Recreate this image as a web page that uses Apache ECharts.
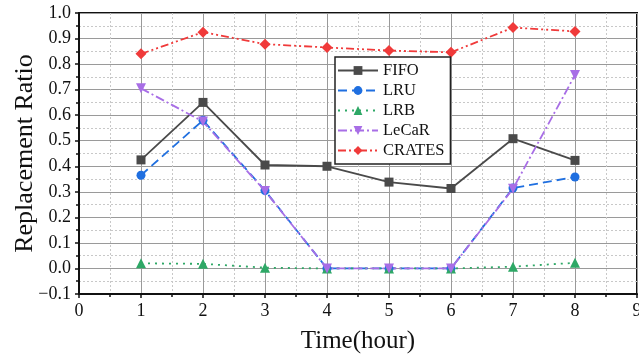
<!DOCTYPE html>
<html><head><meta charset="utf-8">
<script src="https://cdn.jsdelivr.net/npm/echarts@6/dist/echarts.min.js"></script>
<style>html,body{margin:0;padding:0;background:#fff}#c{width:639px;height:358px}</style>
</head><body><div id="c"></div>
<script>
var hours = [1, 2, 3, 4, 5, 6, 7, 8];
var fifo   = [0.425, 0.650, 0.405, 0.400, 0.338, 0.313, 0.508, 0.423];
var lru    = [0.365, 0.580, 0.305, 0.000, 0.000, 0.000, 0.315, 0.358];
var lrb    = [0.020, 0.018, 0.003, 0.000, 0.000, 0.000, 0.007, 0.022];
var lecar  = [0.705, 0.575, 0.303, 0.000, 0.000, 0.000, 0.312, 0.757];
var crates = [0.840, 0.925, 0.878, 0.865, 0.853, 0.846, 0.943, 0.928];
var seriesNames = ['FIFO', 'LRU', 'LRB', 'LeCaR', 'CRATES'];

function pairs(v){ return hours.map(function(h,i){ return [h, v[i]]; }); }
var FONT = '"Liberation Serif", "DejaVu Serif", serif';
var chart = echarts.init(document.getElementById('c'), null, {renderer:'canvas'});
var base = {type:'line', symbolSize:9, z:3};
chart.setOption({
  animation:false,
  backgroundColor:'#fff',
  textStyle:{fontFamily:FONT},
  grid:{left:79, right:2, top:13, bottom:64, outerBoundsMode:'none', containLabel:false,
        show:true, borderColor:'#111', borderWidth:2, backgroundColor:'transparent'},
  legend:{
    orient:'vertical', left:335, top:57, padding:[5,6,5,2], itemGap:3,
    itemWidth:40, itemHeight:11, backgroundColor:'#fff', borderColor:'#222', borderWidth:1.5,
    textStyle:{fontFamily:FONT, fontSize:16.5, color:'#111'},
    data:seriesNames
  },
  xAxis:{
    type:'value', min:0, max:9, interval:1,
    name:'Time(hour)', nameLocation:'middle', nameGap:35,
    nameTextStyle:{fontFamily:FONT, fontSize:25, color:'#111'},
    axisLine:{onZero:false, lineStyle:{color:'#111', width:2}},
    axisTick:{show:true, length:4, lineStyle:{color:'#111', width:1.5}},
    minorTick:{show:true, splitNumber:2, length:3, lineStyle:{color:'#111', width:1.5}},
    axisLabel:{fontFamily:FONT, fontSize:18, color:'#111', margin:8},
    splitLine:{show:true, lineStyle:{color:'#9a9a9a', width:1}},
    minorSplitLine:{show:true, lineStyle:{color:'#c8c8c8', width:1, type:[2,2]}}
  },
  yAxis:{
    type:'value', min:-0.1, max:1.0, interval:0.1,
    name:'Replacement Ratio', nameLocation:'middle', nameGap:41, nameMoveOverlap:false,
    nameTextStyle:{fontFamily:FONT, fontSize:26, color:'#111'},
    axisLine:{onZero:false, lineStyle:{color:'#111', width:2}},
    axisTick:{show:true, length:4, lineStyle:{color:'#111', width:1.5}},
    minorTick:{show:true, splitNumber:2, length:3, lineStyle:{color:'#111', width:1.5}},
    axisLabel:{fontFamily:FONT, fontSize:18, color:'#111', margin:8,
      formatter:function(v){ var s=(Math.round(v*10)/10).toFixed(1); return s==='-0.0'?'0.0':s.replace('-','\u2212'); }},
    splitLine:{show:true, lineStyle:{color:'#9a9a9a', width:1}},
    minorSplitLine:{show:true, lineStyle:{color:'#c8c8c8', width:1, type:[2,2]}}
  },
  series:[
    Object.assign({}, base, {name:'FIFO', data:pairs(fifo), symbol:'rect', symbolSize:9,
      itemStyle:{color:'#4a4a4a'}, lineStyle:{color:'#4a4a4a', width:1.8, type:'solid'}}),
    Object.assign({}, base, {name:'LRU', data:pairs(lru), symbol:'circle', symbolSize:9,
      itemStyle:{color:'#1f6fe0'}, lineStyle:{color:'#1f6fe0', width:1.8, type:[9,5]}}),
    Object.assign({}, base, {name:'LRB', data:pairs(lrb), symbol:'triangle', symbolSize:10,
      itemStyle:{color:'#2ea866'}, lineStyle:{color:'#2ea866', width:1.8, type:[2,5]}}),
    Object.assign({}, base, {name:'LeCaR', data:pairs(lecar), symbol:'triangle', symbolRotate:180, symbolSize:10,
      itemStyle:{color:'#a86ee6'}, lineStyle:{color:'#a86ee6', width:1.8, type:[9,3,2,3]}}),
    Object.assign({}, base, {name:'CRATES', data:pairs(crates), symbol:'diamond', symbolSize:11,
      itemStyle:{color:'#f03a3a'}, lineStyle:{color:'#f03a3a', width:1.8, type:[8,3,2,3,2,3]}})
  ]
});
</script></body></html>
